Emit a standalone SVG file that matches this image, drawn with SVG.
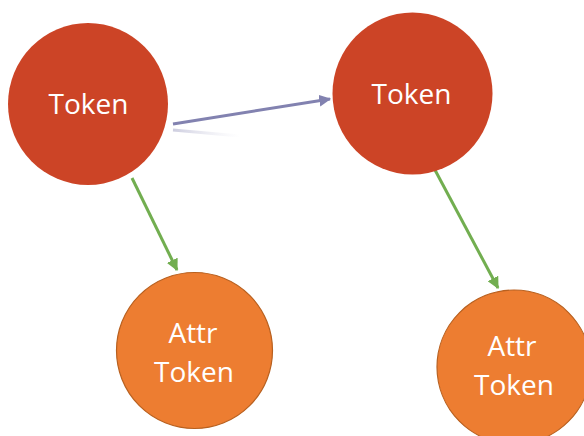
<svg xmlns="http://www.w3.org/2000/svg" width="584" height="436" viewBox="0 0 584 436">
  <style>
    .token { fill: #CC4426; }
    .attr { fill: #ED7D31; stroke: #B8601F; stroke-width: 1.2; }
    .label { font-family: "Open Sans", "Liberation Sans", sans-serif; font-size: 28px; fill: #FFFFFF; text-anchor: middle; }
    .link { stroke: #8282B0; stroke-width: 3; fill: none; }
    .has { stroke: #72AE50; stroke-width: 3; fill: none; }
  </style>
  <defs>
    <marker id="headPurple" viewBox="0 0 10 10" refX="9" refY="5" markerWidth="4" markerHeight="4" orient="auto" markerUnits="strokeWidth">
      <path d="M0,0 L10,5 L0,10 Z" fill="#8282B0"/>
    </marker>
    <marker id="headGreen" viewBox="0 0 10 10" refX="9" refY="5" markerWidth="4" markerHeight="4" orient="auto" markerUnits="strokeWidth">
      <path d="M0,0 L10,5 L0,10 Z" fill="#72AE50"/>
    </marker>
    <linearGradient id="shadowFade" x1="173" y1="0" x2="240" y2="0" gradientUnits="userSpaceOnUse">
      <stop offset="0" stop-color="#C8C8DC" stop-opacity="0.9"/>
      <stop offset="1" stop-color="#E4E4EE" stop-opacity="0"/>
    </linearGradient>
  </defs>

  <g id="connectors">
    <line x1="173" y1="130" x2="240" y2="136" stroke="url(#shadowFade)" stroke-width="3"/>
    <line class="link" x1="173" y1="124" x2="330" y2="99" marker-end="url(#headPurple)"/>
    <line class="has" x1="132" y1="178" x2="177" y2="270" marker-end="url(#headGreen)"/>
    <line class="has" x1="435" y1="170" x2="498" y2="288" marker-end="url(#headGreen)"/>
  </g>

  <g id="token1">
    <ellipse class="token" cx="88" cy="104" rx="80" ry="81"/>
    <text class="label" x="88.5" y="114">Token</text>
  </g>

  <g id="token2">
    <ellipse class="token" cx="412.5" cy="93.5" rx="80" ry="81"/>
    <text class="label" x="411.5" y="104">Token</text>
  </g>

  <g id="attrToken1">
    <circle class="attr" cx="194.5" cy="350.5" r="78"/>
    <text class="label" x="193" y="343">Attr</text>
    <text class="label" x="194" y="382">Token</text>
  </g>

  <g id="attrToken2">
    <circle class="attr" cx="514" cy="367" r="77"/>
    <text class="label" x="512" y="356">Attr</text>
    <text class="label" x="514" y="395">Token</text>
  </g>
</svg>
